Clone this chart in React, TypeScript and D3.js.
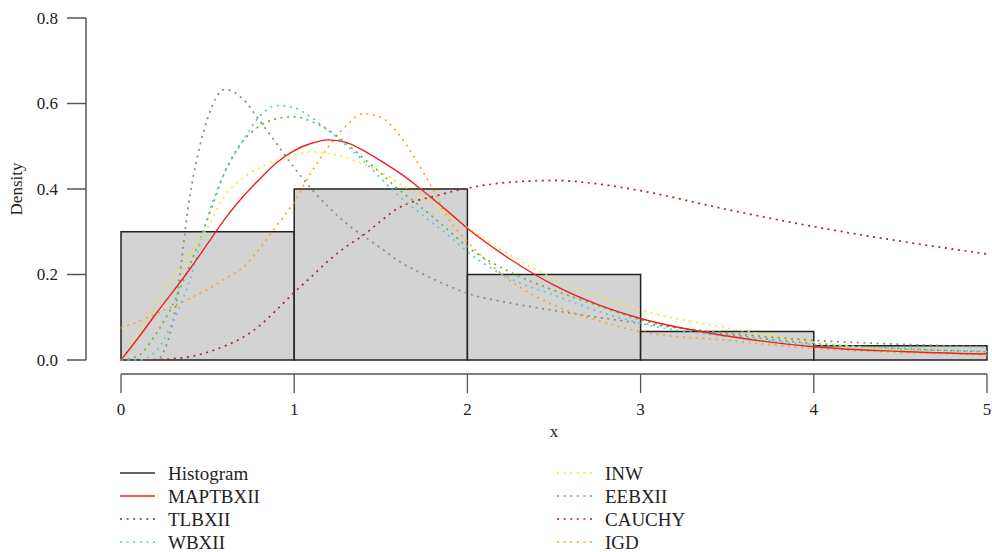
import * as d3 from 'd3'

// bins of the histogram and their densities
const binEdges = [0, 1, 2, 3, 4, 5]
const binDensity = [0.3, 0.4, 0.2, 0.0667, 0.0333]

// x grid the fitted densities were read at
const xs = [0, 0.1, 0.2, 0.3, 0.4, 0.5, 0.6, 0.7, 0.8, 0.9, 1, 1.1, 1.2, 1.3, 1.4, 1.5, 1.6, 1.7, 1.8, 1.9, 2, 2.25, 2.5, 2.75, 3, 3.5, 4, 4.5, 5]

const maptbxii = [0, 0.052, 0.107, 0.16, 0.214, 0.272, 0.33, 0.38, 0.423, 0.462, 0.49, 0.507, 0.515, 0.509, 0.49, 0.466, 0.44, 0.41, 0.377, 0.343, 0.308, 0.235, 0.175, 0.13, 0.097, 0.056, 0.031, 0.02, 0.014]
const tlbxii = [0, 0, 0, 0.09, 0.39, 0.565, 0.633, 0.612, 0.56, 0.505, 0.45, 0.4, 0.357, 0.32, 0.29, 0.262, 0.232, 0.21, 0.19, 0.172, 0.156, 0.133, 0.116, 0.1, 0.086, 0.063, 0.046, 0.037, 0.031]
const wbxii = [0, 0, 0.02, 0.09, 0.19, 0.335, 0.44, 0.51, 0.57, 0.595, 0.59, 0.567, 0.536, 0.502, 0.466, 0.425, 0.385, 0.352, 0.32, 0.288, 0.253, 0.19, 0.152, 0.115, 0.086, 0.055, 0.036, 0.026, 0.02]
const inw = [0, 0.06, 0.13, 0.19, 0.245, 0.31, 0.385, 0.425, 0.45, 0.468, 0.48, 0.487, 0.483, 0.473, 0.458, 0.44, 0.415, 0.39, 0.366, 0.338, 0.31, 0.245, 0.19, 0.15, 0.117, 0.075, 0.042, 0.022, 0.014]
const eebxii = [0, 0.01, 0.06, 0.13, 0.225, 0.33, 0.44, 0.51, 0.547, 0.565, 0.569, 0.558, 0.537, 0.507, 0.472, 0.437, 0.4, 0.368, 0.335, 0.3, 0.265, 0.205, 0.163, 0.128, 0.094, 0.06, 0.039, 0.027, 0.019]
const cauchy = [0, 0, 0.001, 0.003, 0.008, 0.018, 0.033, 0.052, 0.08, 0.118, 0.158, 0.195, 0.233, 0.265, 0.292, 0.325, 0.355, 0.372, 0.382, 0.393, 0.402, 0.416, 0.42, 0.412, 0.396, 0.352, 0.312, 0.278, 0.248]
const igd = [0.075, 0.09, 0.108, 0.125, 0.145, 0.165, 0.19, 0.215, 0.26, 0.315, 0.37, 0.44, 0.5, 0.548, 0.576, 0.568, 0.53, 0.47, 0.4, 0.325, 0.277, 0.185, 0.128, 0.093, 0.066, 0.046, 0.027, 0.018, 0.012]

const xTicks = [0, 1, 2, 3, 4, 5]
const yTicks = [0, 0.2, 0.4, 0.6, 0.8]

const DOT = '2 4.6'
const FONT = '"Liberation Serif", "DejaVu Serif", serif'

// drawn curves (TLBXII comes out grey in the original plot)
const curves = [
  { name: 'TLBXII', ys: tlbxii, color: '#8c8c7c', dash: DOT },
  { name: 'CAUCHY', ys: cauchy, color: '#b22222', dash: DOT },
  { name: 'IGD', ys: igd, color: '#ffa020', dash: DOT },
  { name: 'EEBXII', ys: eebxii, color: '#5cb840', dash: DOT },
  { name: 'WBXII', ys: wbxii, color: '#5cc8e0', dash: DOT },
  { name: 'INW', ys: inw, color: '#f2ee1c', dash: DOT },
  { name: 'MAPTBXII', ys: maptbxii, color: '#ee2020', dash: null },
]

const legendLeft = [
  { name: 'Histogram', color: '#333', dash: null },
  { name: 'MAPTBXII', color: '#ee2020', dash: null },
  { name: 'TLBXII', color: '#2040c8', dash: DOT },
  { name: 'WBXII', color: '#5cc8e0', dash: DOT },
]
const legendRight = [
  { name: 'INW', color: '#f2ee1c', dash: DOT },
  { name: 'EEBXII', color: '#5cb840', dash: DOT },
  { name: 'CAUCHY', color: '#b22222', dash: DOT },
  { name: 'IGD', color: '#ffa020', dash: DOT },
]

export default function App() {
  const x = d3.scaleLinear().domain([0, 5]).range([121, 987])
  const y = d3.scaleLinear().domain([0, 0.8]).range([360, 18])

  const line = d3.line<number>()
    .x((_, i) => x(xs[i]))
    .y((d) => y(d))
    .curve(d3.curveMonotoneX)

  const axisColor = '#555'

  return (
    <div style={{ position: 'absolute', left: 0, top: 0 }}>
      <svg width={992} height={552} style={{ display: 'block', background: '#fff' }} fontFamily={FONT}>
        {/* histogram */}
        {binDensity.map((d, i) => (
          <rect
            key={i}
            x={x(binEdges[i])}
            y={y(d)}
            width={x(binEdges[i + 1]) - x(binEdges[i])}
            height={y(0) - y(d)}
            fill="#d3d3d3"
            stroke="#222"
            strokeWidth={1.5}
          />
        ))}

        {curves.map((c) => (
          <path
            key={c.name}
            d={line(c.ys) || ''}
            fill="none"
            stroke={c.color}
            strokeWidth={c.dash ? 1.7 : 1.4}
            strokeDasharray={c.dash || undefined}
          />
        ))}

        {/* y axis */}
        <line x1={86} x2={86} y1={y(0.8)} y2={y(0)} stroke={axisColor} strokeWidth={1.5} />
        {yTicks.map((t) => (
          <g key={t}>
            <line x1={67} x2={86} y1={y(t)} y2={y(t)} stroke={axisColor} strokeWidth={1.5} />
            <text x={58} y={y(t)} dy="0.35em" textAnchor="end" fontSize={17} fill="#222">
              {t.toFixed(1)}
            </text>
          </g>
        ))}
        <text transform={`translate(22,${(y(0) + y(0.8)) / 2}) rotate(-90)`} textAnchor="middle" fontSize={17} fill="#222">
          Density
        </text>

        {/* x axis */}
        <line x1={x(0)} x2={x(5)} y1={374} y2={374} stroke={axisColor} strokeWidth={1.5} />
        {xTicks.map((t) => (
          <g key={t}>
            <line x1={x(t)} x2={x(t)} y1={374} y2={393} stroke={axisColor} strokeWidth={1.3} />
            <text x={x(t)} y={409} dy="0.35em" textAnchor="middle" fontSize={17} fill="#222">
              {t}
            </text>
          </g>
        ))}
        <text x={(x(0) + x(5)) / 2} y={431} dy="0.35em" textAnchor="middle" fontSize={17} fill="#222">
          x
        </text>

        {/* legend */}
        {[legendLeft, legendRight].map((col, ci) =>
          col.map((l, i) => {
            const lx = ci === 0 ? 120 : 557
            const ly = 473 + i * 23
            return (
              <g key={l.name}>
                <line
                  x1={lx}
                  x2={lx + 35}
                  y1={ly}
                  y2={ly}
                  stroke={l.color}
                  strokeWidth={1.5}
                  strokeDasharray={l.dash || undefined}
                />
                <text x={lx + 48} y={ly} dy="0.35em" fontSize={19} fill="#222">
                  {l.name}
                </text>
              </g>
            )
          })
        )}
      </svg>
    </div>
  )
}
